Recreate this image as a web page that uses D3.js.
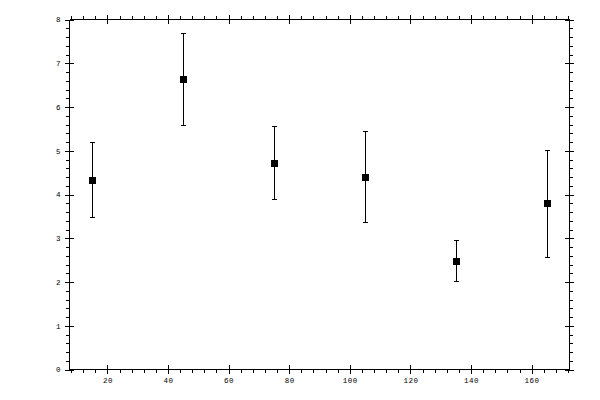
<!DOCTYPE html>
<html>
<head>
<meta charset="utf-8">
<script src="https://cdn.jsdelivr.net/npm/d3@7"></script>
<style>
  body { margin: 0; background: #fff; }
  .graph text { font-family: 'Liberation Mono', monospace; font-size: 7.5px; fill: #000; letter-spacing: 0.5px; }
  .graph path, .graph line { shape-rendering: crispEdges; }
</style>
</head>
<body>
<div class="graph"></div>
<script>
const xs = [15, 45, 75, 105, 135, 165]
const means = [4.33, 6.65, 4.71, 4.41, 2.48, 3.80]
const lows = [3.48, 5.60, 3.89, 3.37, 2.02, 2.57]
const highs = [5.19, 7.70, 5.56, 5.46, 2.96, 5.02]

const xMajor = [20, 40, 60, 80, 100, 120, 140, 160]
const xMinor = d3.range(8, 173, 4)
const yMajor = [0, 1, 2, 3, 4, 5, 6, 7, 8]
const yMinor = d3.range(0, 8.01, 0.2)

const width = 600
const height = 400
const plotLeft = 69.5
const plotRight = 569.5
const plotTop = 19.5
const plotBottom = 369.5

const svg = d3.select('.graph')
  .append('svg')
  .attr('width', width)
  .attr('height', height)

const x = d3.scaleLinear().domain([7.5, 172.5]).range([plotLeft, plotRight])
const y = d3.scaleLinear().domain([0, 8]).range([plotBottom, plotTop])

/**
 * Draws one side of the frame: outward minor ticks plus major ticks
 * crossing the line on both sides.
 */
function drawSide (axisOut, axisIn, scale, pos, transform, minor, major, labels) {
  const g = svg.append('g').attr('transform', transform)
  g.append('g').call(axisOut(scale).tickValues(minor).tickSize(3.5).tickFormat(''))
    .select('.domain').attr('d', pos).attr('stroke-width', 1)
  g.append('g').call(axisOut(scale).tickValues(major).tickSize(4.5).tickPadding(4)
    .tickFormat(labels ? d3.format('d') : ''))
    .select('.domain').remove()
  g.append('g').call(axisIn(scale).tickValues(major).tickSize(4.5).tickFormat(''))
    .select('.domain').remove()
  return g
}

drawSide(d3.axisBottom, d3.axisTop, x, `M${plotLeft},0H${plotRight}`, `translate(0,${plotBottom})`, xMinor, xMajor, true)
drawSide(d3.axisTop, d3.axisBottom, x, `M${plotLeft},0H${plotRight}`, `translate(0,${plotTop})`, xMinor, xMajor, false)
drawSide(d3.axisLeft, d3.axisRight, y, `M0,${plotTop}V${plotBottom}`, `translate(${plotLeft},0)`, yMinor, yMajor, true)
drawSide(d3.axisRight, d3.axisLeft, y, `M0,${plotTop}V${plotBottom}`, `translate(${plotRight},0)`, yMinor, yMajor, false)

svg.selectAll('.tick text').attr('font-family', null).attr('font-size', null)

const data = xs.map((d, i) => ({ x: d, m: means[i], lo: lows[i], hi: highs[i] }))

const bars = svg.append('g').selectAll('g')
  .data(data)
  .join('g')

bars.append('line')
  .attr('x1', d => Math.round(x(d.x)) + 0.5)
  .attr('x2', d => Math.round(x(d.x)) + 0.5)
  .attr('y1', d => y(d.lo))
  .attr('y2', d => y(d.hi))
  .attr('stroke', '#000')

bars.selectAll('.cap')
  .data(d => [d.lo, d.hi].map(v => ({ x: d.x, v })))
  .join('line')
  .attr('class', 'cap')
  .attr('x1', d => Math.round(x(d.x)) - 2)
  .attr('x2', d => Math.round(x(d.x)) + 3)
  .attr('y1', d => Math.round(y(d.v)) + 0.5)
  .attr('y2', d => Math.round(y(d.v)) + 0.5)
  .attr('stroke', '#000')

bars.append('rect')
  .attr('x', d => Math.round(x(d.x)) - 3)
  .attr('y', d => Math.round(y(d.m)) - 3)
  .attr('width', 7)
  .attr('height', 7)
  .attr('fill', '#000')
</script>
</body>
</html>
